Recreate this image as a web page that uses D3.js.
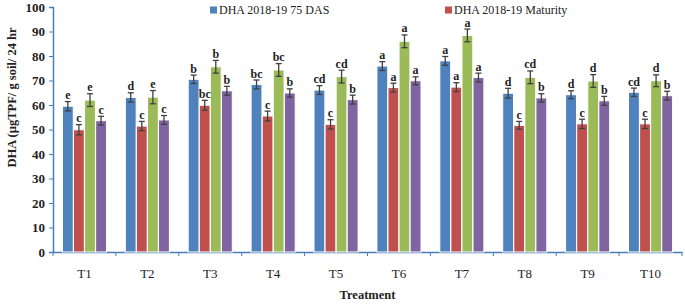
<!DOCTYPE html>
<html>
<head>
<meta charset="utf-8">
<script src="https://cdn.jsdelivr.net/npm/d3@7"></script>
<style>
  body { margin: 0; background: #fff; }
  svg text { font-family: "Liberation Serif", "Times New Roman", serif; }
</style>
</head>
<body>
<div id="chart"></div>
<script>
const treatments = ["T1", "T2", "T3", "T4", "T5", "T6", "T7", "T8", "T9", "T10"];
const seriesNames = ["DHA 2018-19 75 DAS", "DHA 2018-19 Maturity", "DHA 2019-20 75 DAS", "DHA 2019-20 Maturity"];
const legendNames = ["DHA 2018-19 75 DAS", "DHA 2018-19 Maturity"];

const das1819 = [59.5, 63.1, 70.5, 68.4, 66.1, 75.9, 78.0, 64.8, 64.2, 65.2];
const mat1819 = [49.9, 51.4, 59.9, 55.5, 52.1, 67.1, 67.3, 51.7, 52.3, 52.3];
const das1920 = [62.0, 63.2, 75.6, 74.3, 71.6, 86.0, 88.4, 71.3, 69.8, 69.9];
const mat1920 = [53.6, 53.9, 65.8, 64.9, 62.2, 69.9, 71.2, 62.9, 61.7, 63.8];

const err1 = [1.9, 1.9, 1.7, 1.8, 1.8, 1.8, 1.8, 2.0, 1.6, 1.7];
const err2 = [2.1, 1.9, 2.0, 2.0, 1.9, 1.8, 1.8, 1.6, 1.9, 1.9];
const err3 = [2.6, 2.7, 2.6, 2.6, 2.6, 2.6, 2.6, 2.6, 2.6, 2.4];
const err4 = [1.8, 1.8, 1.8, 1.7, 1.8, 1.6, 1.8, 1.7, 1.8, 1.8];

const let1 = ["e", "d", "b", "bc", "cd", "a", "a", "d", "d", "cd"];
const let2 = ["c", "c", "bc", "c", "c", "a", "a", "c", "c", "c"];
const let3 = ["e", "e", "b", "bc", "cd", "a", "a", "cd", "d", "d"];
const let4 = ["c", "c", "b", "b", "b", "a", "a", "b", "b", "b"];

const yTicks = [0, 10, 20, 30, 40, 50, 60, 70, 80, 90, 100];
const colors = ["#4F81BD", "#C0504D", "#9BBB59", "#8064A2"];

const values = [das1819, mat1819, das1920, mat1920];
const errs = [err1, err2, err3, err4];
const letters = [let1, let2, let3, let4];

const margin = { top: 7, right: 3, bottom: 52, left: 53 },
    width = 685 - margin.left - margin.right,
    height = 304 - margin.top - margin.bottom;

const svg = d3.select("#chart")
    .append("svg")
    .attr("width", 685)
    .attr("height", 304)
    .append("g")
    .attr("transform", `translate(${margin.left},${margin.top})`);

const x = d3.scaleBand()
    .domain(treatments)
    .range([0, width])
    .paddingInner(0)
    .paddingOuter(0);

const xSub = d3.scaleBand()
    .domain(seriesNames)
    .range([0, x.bandwidth()])
    .paddingInner(0.02)
    .paddingOuter(0.85);

const y = d3.scaleLinear()
    .domain([0, 100])
    .range([height, 0]);

// data table built from the arrays
const data = treatments.map((t, i) => ({
    t: t,
    bars: seriesNames.map((s, k) => ({
        key: s, k: k, value: values[k][i], err: errs[k][i], letter: letters[k][i]
    }))
}));

const axisColor = "#4A7EBB";

// y axis
const yAxis = svg.append("g")
    .call(d3.axisLeft(y).tickValues(yTicks).tickSize(4).tickPadding(4));
yAxis.select(".domain").attr("stroke", axisColor).attr("stroke-width", 1.5);
yAxis.selectAll(".tick line").attr("stroke", axisColor);
yAxis.selectAll(".tick text")
    .style("font-size", "13px")
    .style("font-weight", "bold")
    .attr("fill", "#222");

// x axis
const xAxis = svg.append("g")
    .attr("transform", `translate(0,${height})`)
    .call(d3.axisBottom(x).tickSize(0).tickPadding(17));
xAxis.select(".domain").attr("stroke", axisColor).attr("stroke-width", 1.5);
xAxis.selectAll(".tick text")
    .style("font-size", "13px")
    .attr("fill", "#222");
// tick marks at group boundaries
xAxis.selectAll(".bound")
    .data(treatments.concat(["end"]))
    .join("line")
    .attr("class", "bound")
    .attr("x1", (d, i) => i * x.step())
    .attr("x2", (d, i) => i * x.step())
    .attr("y1", 0)
    .attr("y2", 4)
    .attr("stroke", axisColor);

// bars
const groups = svg.append("g")
    .selectAll("g")
    .data(data)
    .join("g")
    .attr("transform", d => `translate(${x(d.t)},0)`);

groups.selectAll("rect")
    .data(d => d.bars)
    .join("rect")
    .attr("x", d => xSub(d.key))
    .attr("y", d => y(d.value))
    .attr("width", xSub.bandwidth())
    .attr("height", d => height - y(d.value))
    .attr("fill", d => colors[d.k])
    .attr("stroke", "#fff")
    .attr("stroke-width", 1);

// error bars
const eb = groups.selectAll("g.err")
    .data(d => d.bars)
    .join("g")
    .attr("class", "err")
    .attr("stroke", "#404040")
    .attr("stroke-width", 1.3);
eb.append("line")
    .attr("x1", d => xSub(d.key) + xSub.bandwidth() / 2)
    .attr("x2", d => xSub(d.key) + xSub.bandwidth() / 2)
    .attr("y1", d => y(d.value - d.err))
    .attr("y2", d => y(d.value + d.err));
eb.append("line")
    .attr("x1", d => xSub(d.key) + xSub.bandwidth() / 2 - 3)
    .attr("x2", d => xSub(d.key) + xSub.bandwidth() / 2 + 3)
    .attr("y1", d => y(d.value + d.err))
    .attr("y2", d => y(d.value + d.err));
eb.append("line")
    .attr("x1", d => xSub(d.key) + xSub.bandwidth() / 2 - 3)
    .attr("x2", d => xSub(d.key) + xSub.bandwidth() / 2 + 3)
    .attr("y1", d => y(d.value - d.err))
    .attr("y2", d => y(d.value - d.err));

// significance letters
groups.selectAll("text.sig")
    .data(d => d.bars)
    .join("text")
    .attr("class", "sig")
    .attr("x", d => xSub(d.key) + xSub.bandwidth() / 2)
    .attr("y", d => y(d.value + d.err) - 2.5)
    .attr("text-anchor", "middle")
    .style("font-size", "12px")
    .style("font-weight", "bold")
    .attr("fill", "#222")
    .text(d => d.letter);

// axis titles
svg.append("text")
    .attr("transform", "rotate(-90)")
    .attr("x", -height / 2 + 32)
    .attr("y", -margin.left + 16)
    .attr("text-anchor", "middle")
    .style("font-size", "12.5px")
    .style("font-weight", "bold")
    .attr("fill", "#222")
    .text("DHA (µgTPF/ g soil/ 24 hr");

svg.append("text")
    .attr("x", width / 2)
    .attr("y", height + 47)
    .attr("text-anchor", "middle")
    .style("font-size", "12.5px")
    .style("font-weight", "bold")
    .attr("fill", "#222")
    .text("Treatment");

// legend
const legendX = [157, 392];
legendNames.forEach((label, i) => {
    const row = svg.append("g")
        .attr("transform", `translate(${legendX[i]},-1.5)`);
    row.append("rect")
        .attr("y", 1)
        .attr("width", 7)
        .attr("height", 7)
        .attr("fill", colors[i]);
    row.append("text")
        .attr("x", 9)
        .attr("y", 8)
        .style("font-size", "12px")
        .attr("fill", "#222")
        .text(label);
});
</script>
</body>
</html>
